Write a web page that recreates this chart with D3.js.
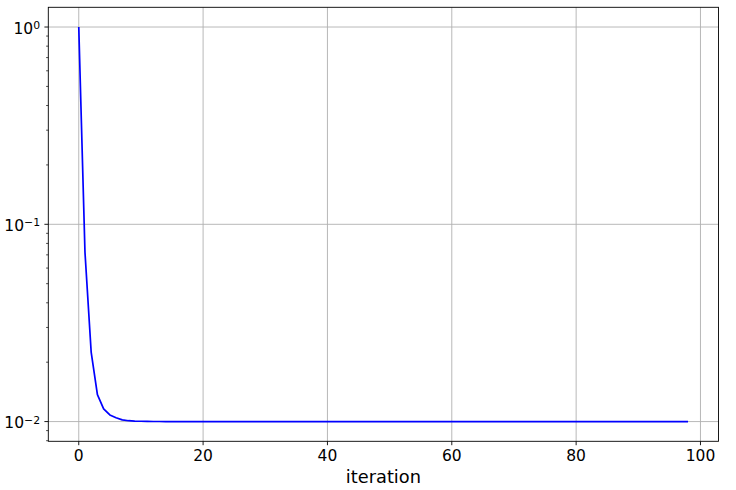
<!DOCTYPE html>
<html>
<head>
<meta charset="utf-8">
<script src="https://cdn.jsdelivr.net/npm/d3@7"></script>
<style>
  body { margin: 0; background: #fff; }
  svg { display: block; font-family: "DejaVu Sans", sans-serif; }
</style>
</head>
<body>
<svg width="736" height="490"></svg>
<script>
// loss per iteration (index = iteration)
var loss = [
  1.0, 0.0721, 0.0224, 0.0137, 0.0116, 0.0108, 0.01045, 0.0102, 0.0101, 0.01006,
  0.01004, 0.01002, 0.01001, 0.01001, 0.01, 0.01, 0.01, 0.01, 0.01, 0.01,
  0.01, 0.01, 0.01, 0.01, 0.01, 0.01, 0.01, 0.01, 0.01, 0.01,
  0.01, 0.01, 0.01, 0.01, 0.01, 0.01, 0.01, 0.01, 0.01, 0.01,
  0.01, 0.01, 0.01, 0.01, 0.01, 0.01, 0.01, 0.01, 0.01, 0.01,
  0.01, 0.01, 0.01, 0.01, 0.01, 0.01, 0.01, 0.01, 0.01, 0.01,
  0.01, 0.01, 0.01, 0.01, 0.01, 0.01, 0.01, 0.01, 0.01, 0.01,
  0.01, 0.01, 0.01, 0.01, 0.01, 0.01, 0.01, 0.01, 0.01, 0.01,
  0.01, 0.01, 0.01, 0.01, 0.01, 0.01, 0.01, 0.01, 0.01, 0.01,
  0.01, 0.01, 0.01, 0.01, 0.01, 0.01, 0.01, 0.01, 0.01
];
var xTicks = [0, 20, 40, 60, 80, 100];
var yTicks = [0.01, 0.1, 1];
var yExp = ["\u22122", "\u22121", "0"];
var yMinor = [0.008, 0.009, 0.02, 0.03, 0.04, 0.05, 0.06, 0.07, 0.08, 0.09,
  0.2, 0.3, 0.4, 0.5, 0.6, 0.7, 0.8, 0.9];
var xLabel = "iteration";

var svg = d3.select("svg"),
  width = +svg.attr("width"),
  height = +svg.attr("height");
var margin = {left: 48.3, top: 7.3, right: 17.5, bottom: 48.7};
var x0 = margin.left, x1 = width - margin.right;
var y0 = height - margin.bottom, y1 = margin.top;

var n = loss.length;
var x = d3.scaleLinear()
  .domain([-0.05 * (n - 1), (n - 1) * 1.05])
  .range([x0, x1]);
var y = d3.scaleLog()
  .domain([Math.pow(10, -2.1), Math.pow(10, 0.1)])
  .range([y0, y1]);

var fs = 15.5;

// grid
var grid = svg.append("g").attr("stroke", "#b0b0b0").attr("stroke-width", 0.9);
grid.selectAll("line.gx").data(xTicks).enter().append("line")
  .attr("x1", function (d) { return x(d); }).attr("x2", function (d) { return x(d); })
  .attr("y1", y0).attr("y2", y1);
grid.selectAll("line.gy").data(yTicks).enter().append("line")
  .attr("y1", function (d) { return y(d); }).attr("y2", function (d) { return y(d); })
  .attr("x1", x0).attr("x2", x1);

// the line
var line = d3.line()
  .x(function (d, i) { return x(i); })
  .y(function (d) { return y(d); });
svg.append("path")
  .datum(loss)
  .attr("d", line)
  .attr("fill", "none")
  .attr("stroke", "#0000ff")
  .attr("stroke-width", 1.7)
  .attr("stroke-linejoin", "round");

// x axis ticks + labels
var xt = svg.append("g");
xt.selectAll("line").data(xTicks).enter().append("line")
  .attr("x1", function (d) { return x(d); }).attr("x2", function (d) { return x(d); })
  .attr("y1", y0).attr("y2", y0 + 3.9)
  .attr("stroke", "#000").attr("stroke-width", 0.9);
xt.selectAll("text").data(xTicks).enter().append("text")
  .attr("x", function (d) { return x(d); })
  .attr("y", y0 + 19.4)
  .attr("text-anchor", "middle")
  .attr("font-size", fs)
  .text(function (d) { return d; });

// y axis ticks + labels
var yt = svg.append("g");
yt.selectAll("line.maj").data(yTicks).enter().append("line")
  .attr("y1", function (d) { return y(d); }).attr("y2", function (d) { return y(d); })
  .attr("x1", x0 - 3.9).attr("x2", x0)
  .attr("stroke", "#000").attr("stroke-width", 0.9);
yt.selectAll("line.min").data(yMinor).enter().append("line")
  .attr("y1", function (d) { return y(d); }).attr("y2", function (d) { return y(d); })
  .attr("x1", x0 - 2.2).attr("x2", x0)
  .attr("stroke", "#000").attr("stroke-width", 0.7);
var lab = yt.selectAll("text").data(yTicks).enter().append("text")
  .attr("x", x0 - 8.2)
  .attr("y", function (d) { return y(d) + 6.7; })
  .attr("text-anchor", "end")
  .attr("font-size", fs);
lab.append("tspan").text("10");
lab.append("tspan")
  .attr("dy", -4.6)
  .attr("font-size", fs * 0.7)
  .text(function (d, i) { return yExp[i]; });

// frame
svg.append("rect")
  .attr("x", x0).attr("y", y1)
  .attr("width", x1 - x0).attr("height", y0 - y1)
  .attr("fill", "none").attr("stroke", "#000").attr("stroke-width", 0.9);

// x label
svg.append("text")
  .attr("x", (x0 + x1) / 2)
  .attr("y", 483)
  .attr("text-anchor", "middle")
  .attr("font-size", 17.8)
  .text(xLabel);
</script>
</body>
</html>
